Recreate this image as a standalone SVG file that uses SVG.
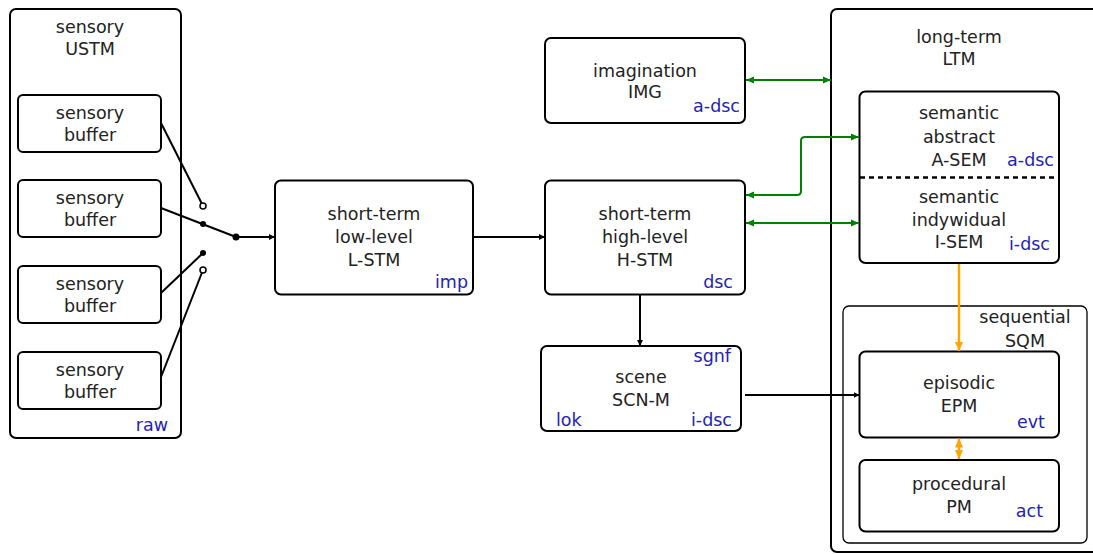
<svg xmlns="http://www.w3.org/2000/svg" width="1093" height="554" viewBox="0 0 1093 554">
<style>
.box{fill:#fff;stroke:#000;stroke-width:2}
.thin{fill:none;stroke:#000;stroke-width:1.3}
text{font-family:"DejaVu Sans",sans-serif;font-size:17.5px;fill:#222}
.c{text-anchor:middle}
.lbl{fill:#2323b0}
.r{text-anchor:end}
.k{stroke:#000;stroke-width:2;fill:none}
.g{stroke:#008000;stroke-width:2;fill:none}
.o{stroke:#ffa500;stroke-width:2.5;fill:none}
</style>
<defs>
<marker id="ak" markerUnits="userSpaceOnUse" markerWidth="7" markerHeight="7" refX="6" refY="3.5" orient="auto"><path d="M0,0.5 L6,3.5 L0,6.5 z" fill="#000"/></marker>
<marker id="ag" markerUnits="userSpaceOnUse" markerWidth="9" markerHeight="8" refX="8" refY="4" orient="auto-start-reverse"><path d="M0,0.5 L8,4 L0,7.5 z" fill="#008000"/></marker>
<marker id="ao" markerUnits="userSpaceOnUse" markerWidth="10" markerHeight="9" refX="9" refY="4.5" orient="auto-start-reverse"><path d="M0,0.5 L9,4.5 L0,8.5 z" fill="#ffa500"/></marker>
</defs>

<g id="ustm">
<rect class="box" x="10" y="9" width="171" height="429" rx="6"/>
<text class="c" x="90" y="33">sensory</text>
<text class="c" x="90" y="55">USTM</text>
<text class="lbl r" x="168" y="431">raw</text>
</g>
<g id="buffer1">
<rect class="box" x="18" y="95" width="143" height="57" rx="5"/>
<text class="c" x="90" y="119">sensory</text>
<text class="c" x="90" y="141">buffer</text>
</g>
<g id="buffer2">
<rect class="box" x="18" y="180" width="143" height="57" rx="5"/>
<text class="c" x="90" y="204">sensory</text>
<text class="c" x="90" y="226">buffer</text>
</g>
<g id="buffer3">
<rect class="box" x="18" y="266" width="143" height="57" rx="5"/>
<text class="c" x="90" y="290">sensory</text>
<text class="c" x="90" y="312">buffer</text>
</g>
<g id="buffer4">
<rect class="box" x="18" y="352" width="143" height="57" rx="5"/>
<text class="c" x="90" y="376">sensory</text>
<text class="c" x="90" y="398">buffer</text>
</g>

<g id="lstm">
<rect class="box" x="275" y="180.5" width="198" height="114" rx="6"/>
<text class="c" x="374" y="220">short-term</text>
<text class="c" x="374" y="243">low-level</text>
<text class="c" x="374" y="266">L-STM</text>
<text class="lbl r" x="468" y="288">imp</text>
</g>
<g id="hstm">
<rect class="box" x="545" y="180.5" width="200" height="114" rx="6"/>
<text class="c" x="645" y="220">short-term</text>
<text class="c" x="645" y="243">high-level</text>
<text class="c" x="645" y="266">H-STM</text>
<text class="lbl r" x="733" y="288">dsc</text>
</g>
<g id="img">
<rect class="box" x="545" y="38" width="200" height="85" rx="6"/>
<text class="c" x="645" y="77">imagination</text>
<text class="c" x="645" y="98">IMG</text>
<text class="lbl r" x="740" y="112">a-dsc</text>
</g>
<g id="scnm">
<rect class="box" x="541" y="346" width="200" height="85" rx="6"/>
<text class="lbl r" x="731" y="362">sgnf</text>
<text class="c" x="641" y="383">scene</text>
<text class="c" x="641" y="406">SCN-M</text>
<text class="lbl" x="556" y="426">lok</text>
<text class="lbl r" x="732" y="426">i-dsc</text>
</g>

<g id="ltm">
<rect class="box" x="831" y="9" width="300" height="543" rx="6"/>
<text class="c" x="959" y="43">long-term</text>
<text class="c" x="959" y="65">LTM</text>
</g>
<g id="sem">
<rect class="box" x="859.5" y="91.5" width="199.5" height="171.5" rx="6"/>
<line x1="860" y1="177.5" x2="1059" y2="177.5" stroke="#000" stroke-width="2.5" stroke-dasharray="5,4"/>
<text class="c" x="959" y="119">semantic</text>
<text class="c" x="959" y="143">abstract</text>
<text class="c" x="959" y="166">A-SEM</text>
<text class="lbl r" x="1054" y="166">a-dsc</text>
<text class="c" x="959" y="203">semantic</text>
<text class="c" x="959" y="226">indywidual</text>
<text class="c" x="959" y="248">I-SEM</text>
<text class="lbl r" x="1050" y="250">i-dsc</text>
</g>
<g id="sqm">
<rect class="thin" x="843" y="306" width="244" height="237" rx="6" fill="#fff"/>
<text class="c" x="1025" y="323">sequential</text>
<text class="c" x="1025" y="347">SQM</text>
</g>
<g id="epm">
<rect class="box" x="859.5" y="351.5" width="199.5" height="86" rx="6"/>
<text class="c" x="959" y="389">episodic</text>
<text class="c" x="959" y="412">EPM</text>
<text class="lbl r" x="1045" y="428">evt</text>
</g>
<g id="pm">
<rect class="box" x="859.5" y="460" width="199.5" height="71.5" rx="6"/>
<text class="c" x="959" y="490">procedural</text>
<text class="c" x="959" y="513">PM</text>
<text class="lbl r" x="1043" y="517">act</text>
</g>

<g id="connectors">
<line class="k" x1="161" y1="123" x2="203" y2="206"/>
<line class="k" x1="161" y1="208" x2="236" y2="237"/>
<line class="k" x1="161" y1="293" x2="203" y2="253"/>
<line class="k" x1="161" y1="377" x2="203" y2="270"/>
<circle cx="203" cy="206" r="3" fill="#fff" stroke="#000" stroke-width="1.5"/>
<circle cx="203" cy="270" r="3" fill="#fff" stroke="#000" stroke-width="1.5"/>
<circle cx="203" cy="224" r="3" fill="#000"/>
<circle cx="203" cy="253" r="3" fill="#000"/>
<circle cx="236" cy="237" r="3.5" fill="#000"/>
<line class="k" x1="236" y1="237" x2="275" y2="237" marker-end="url(#ak)"/>
<line class="k" x1="473" y1="237" x2="545" y2="237" marker-end="url(#ak)"/>
<line class="k" x1="640" y1="294" x2="640" y2="346" marker-end="url(#ak)"/>
<line class="k" x1="745" y1="395" x2="859.5" y2="395" marker-end="url(#ak)"/>
<line class="g" x1="746" y1="80" x2="831" y2="80" marker-start="url(#ag)" marker-end="url(#ag)"/>
<path class="g" d="M746,195 H797 Q801,195 801,191 V141 Q801,137 805,137 H859" marker-start="url(#ag)" marker-end="url(#ag)"/>
<line class="g" x1="746" y1="223" x2="859" y2="223" marker-start="url(#ag)" marker-end="url(#ag)"/>
<line class="o" x1="959" y1="264" x2="959" y2="351" marker-end="url(#ao)"/>
<line class="o" x1="959" y1="438.5" x2="959" y2="459" marker-start="url(#ao)" marker-end="url(#ao)"/>
</g>
</svg>
